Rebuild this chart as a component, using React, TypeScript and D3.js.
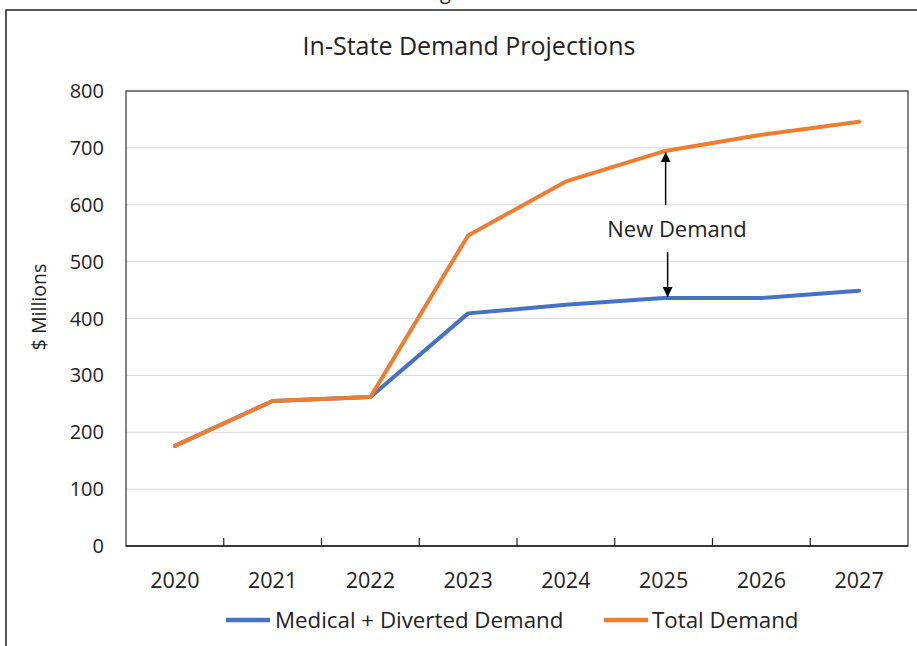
import React from "react";
import * as d3 from "d3";

const years = ["2020", "2021", "2022", "2023", "2024", "2025", "2026", "2027"];
const medicalDiverted = [176, 255, 262, 409, 424, 436, 436, 449];
const totalDemand = [176, 255, 262, 546, 641, 694, 723, 746];
const yTicks = [0, 100, 200, 300, 400, 500, 600, 700, 800];
const seriesNames = ["Medical + Diverted Demand", "Total Demand"];
const seriesColors = ["#4472C4", "#ED7D31"];

const W = 917;
const H = 646;
const plot = { left: 126, right: 908, top: 91, bottom: 546 };
const FONT = "'Open Sans', 'Segoe UI', sans-serif";

export default function App() {
  const x = d3.scaleBand<string>().domain(years).range([plot.left, plot.right]).padding(0);
  const y = d3.scaleLinear().domain([0, 800]).range([plot.bottom, plot.top]);
  const cx = (yr: string) => (x(yr) as number) + x.bandwidth() / 2;
  const line = d3
    .line<number>()
    .x((_, i) => cx(years[i]))
    .y((v) => y(v));

  const arrowX = cx("2025") + 2;

  return (
    <div style={{ position: "absolute", left: 0, top: 0 }}>
      <svg width={W} height={H} style={{ display: "block", background: "#fff" }}>
        <defs>
          <marker id="ah" viewBox="0 0 10 10" refX="10" refY="5" markerWidth="10" markerHeight="10" markerUnits="userSpaceOnUse" orient="auto">
            <path d="M0,0 L10,5 L0,10 z" fill="#000" />
          </marker>
        </defs>
        {/* caption fragment above frame */}
        <text x={462} y={-1} textAnchor="middle" fontFamily={FONT} fontSize={20} fill="#222">Figure 3</text>
        {/* outer frame */}
        <rect x={6} y={10} width={W + 10} height={H + 20} fill="none" stroke="#222" strokeWidth={1.5} />
        {/* title */}
        <text x={469} y={55} textAnchor="middle" fontFamily={FONT} fontSize={25} fill="#222">
          In-State Demand  Projections
        </text>
        {/* gridlines */}
        {yTicks.map((t) => (
          <line key={"g" + t} x1={plot.left} x2={plot.right} y1={y(t)} y2={y(t)} stroke="#d9d9d9" strokeWidth={1} />
        ))}
        {/* plot box */}
        <rect x={plot.left} y={plot.top} width={plot.right - plot.left} height={plot.bottom - plot.top} fill="none" stroke="#333" strokeWidth={1.2} />
        {/* x-axis line */}
        <line x1={plot.left} x2={plot.right} y1={plot.bottom} y2={plot.bottom} stroke="#222" strokeWidth={1.5} />
        {/* x ticks between categories */}
        {years.slice(1).map((yr) => (
          <line key={"t" + yr} x1={x(yr) as number} x2={x(yr) as number} y1={plot.bottom} y2={plot.bottom - 8} stroke="#222" strokeWidth={1.2} />
        ))}
        {/* y tick labels */}
        {yTicks.map((t) => (
          <text key={"yl" + t} x={104} y={y(t) + 7} textAnchor="end" fontFamily={FONT} fontSize={20} fill="#222">
            {t}
          </text>
        ))}
        {/* y axis label */}
        <text transform={`translate(46,307) rotate(-90)`} textAnchor="middle" fontFamily={FONT} fontSize={19.5} fill="#222">
          $ Millions
        </text>
        {/* x labels */}
        {years.map((yr) => (
          <text key={"xl" + yr} x={cx(yr)} y={588} textAnchor="middle" fontFamily={FONT} fontSize={21.5} fill="#222">
            {yr}
          </text>
        ))}
        {/* series */}
        <path d={line(medicalDiverted) as string} fill="none" stroke={seriesColors[0]} strokeWidth={4} strokeLinejoin="round" strokeLinecap="round" />
        <path d={line(totalDemand) as string} fill="none" stroke={seriesColors[1]} strokeWidth={4} strokeLinejoin="round" strokeLinecap="round" />
        {/* annotation */}
        <line x1={arrowX} x2={arrowX} y1={205} y2={y(totalDemand[5]) + 1} stroke="#000" strokeWidth={1.5} markerEnd="url(#ah)" />
        <line x1={arrowX + 2} x2={arrowX + 2} y1={252} y2={y(medicalDiverted[5]) - 1} stroke="#000" strokeWidth={1.5} markerEnd="url(#ah)" />
        <text x={677} y={237} textAnchor="middle" fontFamily={FONT} fontSize={22} fill="#222">New Demand</text>
        {/* legend */}
        <line x1={226} x2={270} y1={620} y2={620} stroke={seriesColors[0]} strokeWidth={4.5} />
        <text x={275} y={627.5} fontFamily={FONT} fontSize={22.3} fill="#222">{seriesNames[0]}</text>
        <line x1={604} x2={648} y1={620} y2={620} stroke={seriesColors[1]} strokeWidth={4.5} />
        <text x={652} y={627.5} fontFamily={FONT} fontSize={22.3} fill="#222">{seriesNames[1]}</text>
      </svg>
    </div>
  );
}
